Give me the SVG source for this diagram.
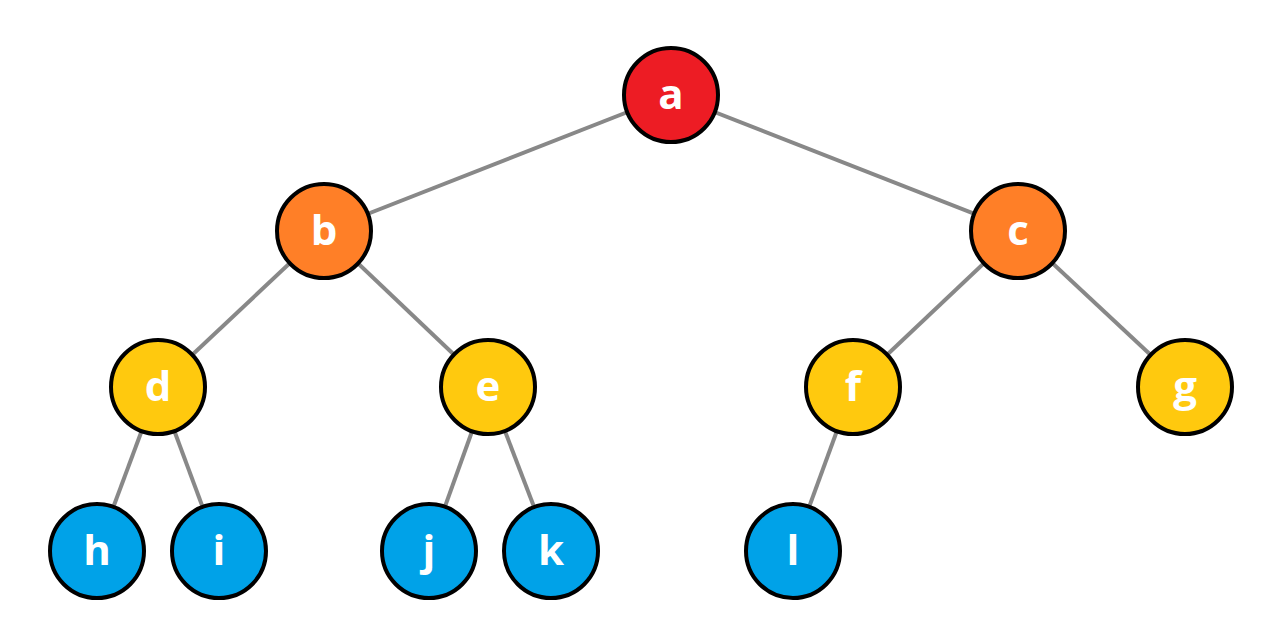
<svg xmlns="http://www.w3.org/2000/svg" width="1284" height="622" viewBox="0 0 1284 622">
<style>
.n{stroke:#000;stroke-width:4}
.r{fill:#ED1C24}.o{fill:#FF7F27}.y{fill:#FFC90E}.b{fill:#00A2E8}
text{font-family:"Open Sans","Noto Sans","Liberation Sans",sans-serif;font-weight:bold;font-size:42px;fill:#fff;text-anchor:middle;dominant-baseline:central}
#edges line{stroke:#888;stroke-width:4}
</style>
<rect width="1284" height="622" fill="#fff"/>
<g id="edges">
<line x1="671" y1="95" x2="324" y2="231"/>
<line x1="671" y1="95" x2="1018" y2="231"/>
<line x1="324" y1="231" x2="158" y2="387"/>
<line x1="324" y1="231" x2="488" y2="387"/>
<line x1="1018" y1="231" x2="853" y2="387"/>
<line x1="1018" y1="231" x2="1185" y2="387"/>
<line x1="158" y1="387" x2="97" y2="551"/>
<line x1="158" y1="387" x2="219" y2="551"/>
<line x1="488" y1="387" x2="429" y2="551"/>
<line x1="488" y1="387" x2="551" y2="551"/>
<line x1="853" y1="387" x2="793" y2="551"/>
</g>
<g id="a"><circle class="n r" cx="671" cy="95" r="47"/><text x="671" y="92">a</text></g>
<g id="b"><circle class="n o" cx="324" cy="231" r="47"/><text x="324" y="228">b</text></g>
<g id="c"><circle class="n o" cx="1018" cy="231" r="47"/><text x="1018" y="228">c</text></g>
<g id="d"><circle class="n y" cx="158" cy="387" r="47"/><text x="158" y="384">d</text></g>
<g id="e"><circle class="n y" cx="488" cy="387" r="47"/><text x="488" y="384">e</text></g>
<g id="f"><circle class="n y" cx="853" cy="387" r="47"/><text x="853" y="384">f</text></g>
<g id="g"><circle class="n y" cx="1185" cy="387" r="47"/><text x="1185" y="384">g</text></g>
<g id="h"><circle class="n b" cx="97" cy="551" r="47"/><text x="97" y="548">h</text></g>
<g id="i"><circle class="n b" cx="219" cy="551" r="47"/><text x="219" y="548">i</text></g>
<g id="j"><circle class="n b" cx="429" cy="551" r="47"/><text x="429" y="548">j</text></g>
<g id="k"><circle class="n b" cx="551" cy="551" r="47"/><text x="551" y="548">k</text></g>
<g id="l"><circle class="n b" cx="793" cy="551" r="47"/><text x="793" y="548">l</text></g>
</svg>
